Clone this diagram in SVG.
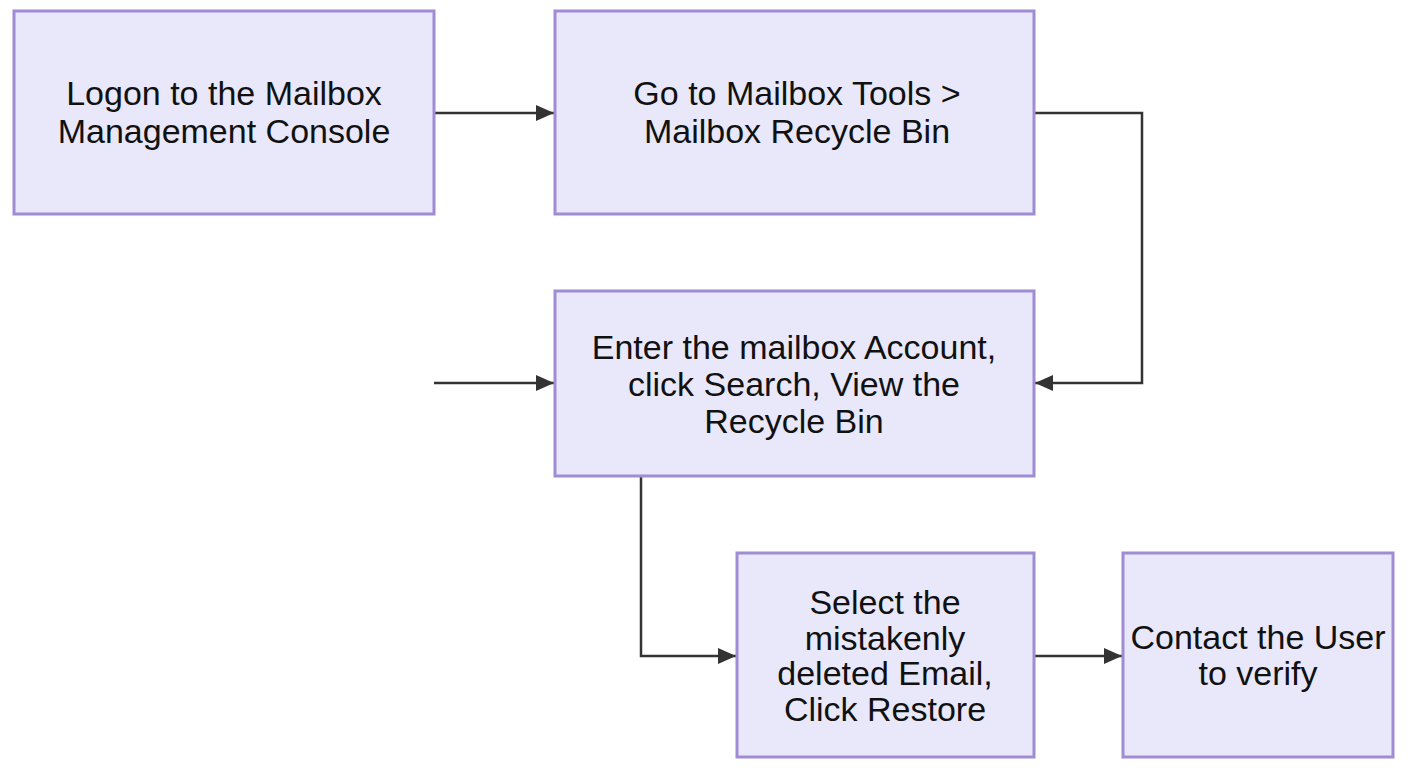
<svg xmlns="http://www.w3.org/2000/svg" width="1408" height="768" viewBox="0 0 1408 768">
<style>
.node rect{fill:#E8E8FA;stroke:#A08CD4;stroke-width:3}
.node text{font-family:"Liberation Sans",Arial,sans-serif;font-size:34px;fill:#111;text-anchor:middle}
.edges path{fill:none;stroke:#333;stroke-width:2.5}
</style>
<defs>
<marker id="arr" viewBox="0 0 18 16" refX="18" refY="8" markerWidth="18" markerHeight="16" markerUnits="userSpaceOnUse" orient="auto">
<path d="M0,0 L18,8 L0,16 z" fill="#333"/>
</marker>
</defs>
<rect width="1408" height="768" fill="#fff"/>
<g class="edges">
<path d="M434,113 H554" marker-end="url(#arr)"/>
<path d="M1034,113 H1142 V383 H1035" marker-end="url(#arr)"/>
<path d="M434,383 H554" marker-end="url(#arr)"/>
<path d="M641,476 V656 H736" marker-end="url(#arr)"/>
<path d="M1034,656 H1122" marker-end="url(#arr)"/>
</g>
<g id="n1" class="node"><rect x="14" y="11" width="420" height="203"/><text x="224" y="105"><tspan x="224">Logon to the Mailbox</tspan><tspan x="224" dy="38">Management Console</tspan></text></g>
<g id="n2" class="node"><rect x="555" y="11" width="479" height="203"/><text x="797" y="105"><tspan x="797">Go to Mailbox Tools &gt;</tspan><tspan x="797" dy="38">Mailbox Recycle Bin</tspan></text></g>
<g id="n3" class="node"><rect x="555" y="291" width="479" height="185"/><text x="794" y="359"><tspan x="794">Enter the mailbox Account,</tspan><tspan x="794" dy="37">click Search, View the</tspan><tspan x="794" dy="37">Recycle Bin</tspan></text></g>
<g id="n4" class="node"><rect x="737" y="553" width="297" height="204"/><text x="885" y="614"><tspan x="885">Select the</tspan><tspan x="885" dy="35.5">mistakenly</tspan><tspan x="885" dy="35.5">deleted Email,</tspan><tspan x="885" dy="35.5">Click Restore</tspan></text></g>
<g id="n5" class="node"><rect x="1123" y="553" width="270" height="204"/><text x="1258" y="649"><tspan x="1258">Contact the User</tspan><tspan x="1258" dy="36">to verify</tspan></text></g>
</svg>
